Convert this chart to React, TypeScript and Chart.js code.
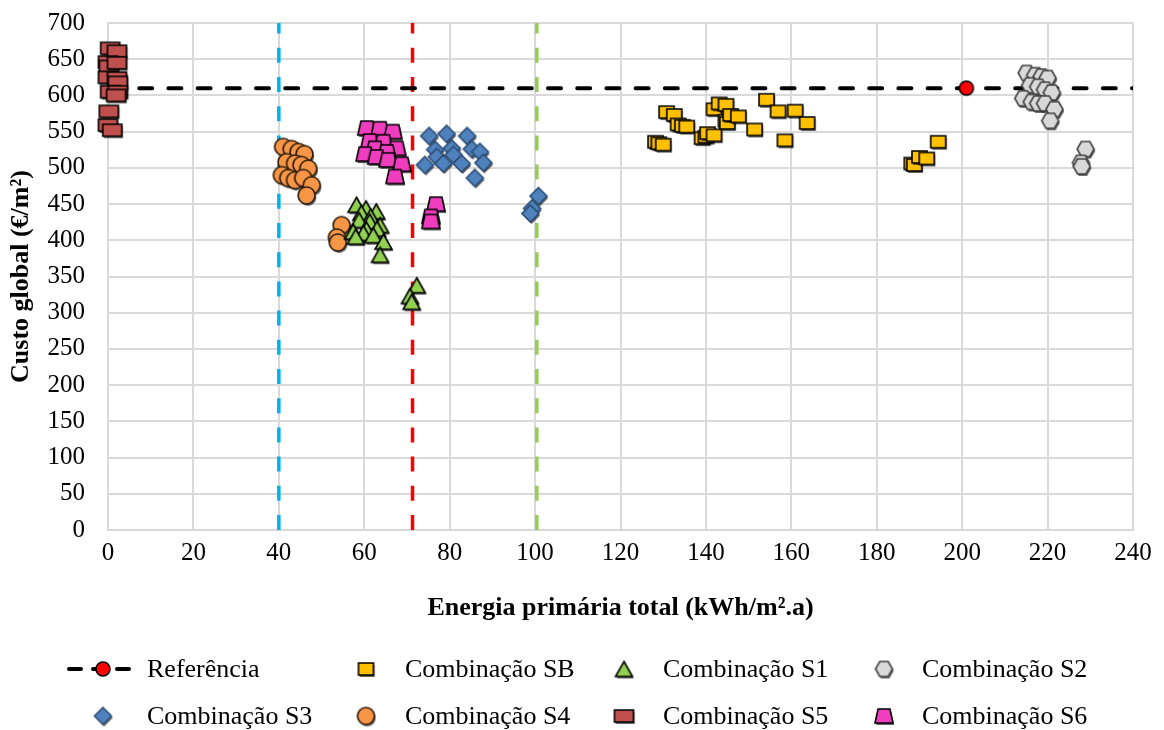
import { useEffect, useRef } from 'react';
import { Chart, registerables } from 'chart.js';

Chart.register(...registerables);

const SERIF = "'Liberation Serif', 'Times New Roman', Times, serif";

// Reference building
const referenciaX = [201];
const referenciaY = [610];
const referenciaLevel = 610;

// Vertical limits (kWh/m².a)
const limitBlue = 40;
const limitRed = 71.3;
const limitGreen = 100.4;

// Combinação SB
const sbX = [128.2, 129.0, 130.0, 130.8, 132.6, 133.5, 134.5, 135.5, 139.1, 140.0, 140.4, 141.9, 141.9, 143.1, 144.7, 144.7, 145.0, 145.8, 147.6, 151.4, 154.2, 156.9, 158.5, 160.9, 163.7, 188.2, 188.8, 190.0, 191.7, 194.4];
const sbY = [536, 534, 532, 577, 573, 560, 558, 557, 541, 543, 548, 545, 581, 589, 587, 565, 562, 573, 571, 553, 594, 578, 538, 579, 562, 506, 504, 515, 513, 536];

// Combinação S1
const s1X = [58.2, 60.4, 62.8, 59.3, 61.5, 58.8, 61.3, 63.7, 63.0, 60.5, 57.4, 59.8, 62.1, 58.0, 64.5, 63.7, 72.3, 70.7, 71.1];
const s1Y = [449, 444, 440, 438, 433, 428, 426, 421, 416, 415, 412, 410, 407, 405, 398, 380, 338, 323, 315];

// Combinação S2
const s2X = [215.1, 217.1, 218.6, 220.0, 215.9, 217.8, 219.4, 221.0, 214.3, 216.3, 217.8, 219.4, 221.6, 220.6, 228.9, 227.8, 228.0];
const s2Y = [631, 628, 626, 624, 614, 612, 608, 604, 596, 591, 589, 589, 581, 565, 526, 507, 502];

// Combinação S3
const s3X = [75.2, 79.3, 84.1, 76.6, 80.5, 85.2, 87.1, 77.0, 80.9, 74.2, 78.5, 82.8, 87.9, 85.9, 100.8, 99.3, 98.9];
const s3Y = [544, 547, 544, 525, 527, 526, 522, 515, 518, 504, 506, 506, 507, 486, 461, 444, 437];

// Combinação S4
const s4X = [41.0, 43.0, 44.6, 46.0, 41.8, 43.8, 45.3, 46.9, 40.7, 42.2, 43.8, 45.7, 47.7, 46.5, 54.7, 53.6, 53.8];
const s4Y = [529, 526, 522, 519, 508, 506, 504, 499, 490, 486, 483, 486, 476, 462, 421, 404, 397];

// Combinação S5
const s5X = [0.5, 2.1, 0.0, 0.2, 2.1, 0.0, 2.1, 2.3, 0.5, 2.3, 1.9, 0.2, 0.0, 1.0];
const s5Y = [665, 661, 646, 640, 645, 625, 624, 618, 605, 605, 600, 578, 559, 552];

// Combinação S6
const s6X = [60.6, 63.7, 66.7, 61.3, 64.5, 67.6, 62.5, 65.3, 60.2, 62.9, 65.6, 68.8, 67.2, 76.8, 75.6, 75.6];
const s6Y = [555, 554, 550, 537, 536, 527, 527, 522, 519, 515, 511, 505, 488, 450, 433, 426];

const xTickStep = 20;
const yTickStep = 50;

type PathFn = (ctx: CanvasRenderingContext2D, w: number, h: number) => void;

const rectPath: PathFn = (ctx, w, h) => {
  ctx.rect(0, 0, w, h);
};
const circlePath: PathFn = (ctx, w, h) => {
  ctx.arc(w / 2, h / 2, w / 2, 0, Math.PI * 2);
};
const trianglePath: PathFn = (ctx, w, h) => {
  ctx.moveTo(w / 2, 0);
  ctx.lineTo(w, h);
  ctx.lineTo(0, h);
  ctx.closePath();
};
const diamondPath: PathFn = (ctx, w, h) => {
  ctx.moveTo(w / 2, 0);
  ctx.lineTo(w, h / 2);
  ctx.lineTo(w / 2, h);
  ctx.lineTo(0, h / 2);
  ctx.closePath();
};
const hexagonPath: PathFn = (ctx, w, h) => {
  ctx.moveTo(w * 0.25, 0);
  ctx.lineTo(w * 0.75, 0);
  ctx.lineTo(w, h / 2);
  ctx.lineTo(w * 0.75, h);
  ctx.lineTo(w * 0.25, h);
  ctx.lineTo(0, h / 2);
  ctx.closePath();
};
const trapezoidPath: PathFn = (ctx, w, h) => {
  ctx.moveTo(w * 0.17, 0);
  ctx.lineTo(w * 0.83, 0);
  ctx.lineTo(w, h);
  ctx.lineTo(0, h);
  ctx.closePath();
};

// Builds a marker bitmap with a soft drop shadow, centred on its canvas.
function makeMarker(path: PathFn, w: number, h: number, fill: string, stroke: string, shadow = true) {
  const pad = 4;
  const c = document.createElement('canvas');
  c.width = w + pad * 2;
  c.height = h + pad * 2;
  const ctx = c.getContext('2d') as CanvasRenderingContext2D;
  if (shadow) {
    ctx.save();
    ctx.translate(pad + 1.2, pad + 2);
    ctx.beginPath();
    path(ctx, w, h);
    ctx.fillStyle = 'rgba(0,0,0,0.6)';
    ctx.fill();
    ctx.restore();
  }
  ctx.save();
  ctx.translate(pad, pad);
  ctx.beginPath();
  path(ctx, w, h);
  ctx.fillStyle = fill;
  ctx.fill();
  ctx.lineWidth = 1.6;
  ctx.strokeStyle = stroke;
  ctx.stroke();
  ctx.restore();
  return c;
}

const zip = (xs: number[], ys: number[]) => xs.map((x, i) => ({ x, y: ys[i] }));

export default function App() {
  const canvasRef = useRef<HTMLCanvasElement | null>(null);

  useEffect(() => {
    const canvas = canvasRef.current;
    if (!canvas) return;

    const markers = {
      ref: makeMarker(circlePath, 14, 14, '#FF0000', '#000000', false),
      sb: makeMarker(rectPath, 15, 12, '#FFC000', '#000000'),
      s1: makeMarker(trianglePath, 17, 15, '#92D050', '#000000'),
      s2: makeMarker(hexagonPath, 17, 15, '#D9D9D9', '#404040'),
      s3: makeMarker(diamondPath, 17, 17, '#4F81BD', '#2C4D75'),
      s4: makeMarker(circlePath, 17, 17, '#F79646', '#2B1A0A'),
      s5: makeMarker(rectPath, 19, 12, '#C0504D', '#000000'),
      s6: makeMarker(trapezoidPath, 18, 14, '#F03CBE', '#000000'),
    };

    // point series sit above the guide lines
    const scatter = (label: string, xs: number[], ys: number[], img: HTMLCanvasElement) => ({
      type: 'scatter' as const,
      label,
      data: zip(xs, ys),
      pointStyle: img,
      pointRadius: 9,
      clip: false as const,
      order: 0,
    });

    const vline = (x: number, color: string) => ({
      type: 'line' as const,
      label: '',
      data: [{ x, y: 0 }, { x, y: 700 }],
      borderColor: color,
      borderWidth: 3.5,
      borderDash: [15, 14.2],
      borderCapStyle: 'butt' as const,
      pointRadius: 0,
      fill: false,
      order: 10,
    });

    const legendItems = [
      { text: 'Referência', img: markers.ref, line: true },
      { text: 'Combinação SB', img: markers.sb },
      { text: 'Combinação S1', img: markers.s1 },
      { text: 'Combinação S2', img: markers.s2 },
      { text: 'Combinação S3', img: markers.s3 },
      { text: 'Combinação S4', img: markers.s4 },
      { text: 'Combinação S5', img: markers.s5 },
      { text: 'Combinação S6', img: markers.s6 },
    ];

    const gridLegend = {
      id: 'gridLegend',
      afterDraw(chart: Chart) {
        const ctx = chart.ctx;
        const markerX = [103, 366, 624, 884];
        const textX = [147, 405, 663, 922];
        const rowY = [669, 716];
        ctx.save();
        ctx.font = `26px ${SERIF}`;
        ctx.fillStyle = '#000';
        ctx.textBaseline = 'middle';
        ctx.textAlign = 'left';
        legendItems.forEach((item, i) => {
          const col = i % 4;
          const row = Math.floor(i / 4);
          const mx = markerX[col];
          const my = rowY[row];
          if (item.line) {
            ctx.save();
            ctx.strokeStyle = '#000';
            ctx.lineWidth = 4;
            ctx.lineCap = 'round';
            ctx.setLineDash([12, 12]);
            ctx.beginPath();
            ctx.moveTo(69, my);
            ctx.lineTo(139, my);
            ctx.stroke();
            ctx.restore();
          }
          ctx.drawImage(item.img, mx - item.img.width / 2, my - item.img.height / 2);
          ctx.fillText(item.text, textX[col], my + 1);
        });
        ctx.restore();
      },
    };

    const chart = new Chart(canvas, {
      type: 'scatter',
      data: {
        datasets: [
          {
            type: 'line',
            label: 'Referência',
            data: [{ x: 0, y: referenciaLevel }, { x: 240, y: referenciaLevel }],
            borderColor: '#000000',
            borderWidth: 4,
            borderDash: [13, 16.2],
            borderDashOffset: -2,
            borderCapStyle: 'round',
            pointRadius: 0,
            fill: false,
            order: 10,
          },
          vline(limitBlue, '#00B0F0'),
          vline(limitRed, '#FF0000'),
          vline(limitGreen, '#92D050'),
          scatter('Referência', referenciaX, referenciaY, markers.ref),
          scatter('Combinação SB', sbX, sbY, markers.sb),
          scatter('Combinação S1', s1X, s1Y, markers.s1),
          scatter('Combinação S2', s2X, s2Y, markers.s2),
          scatter('Combinação S3', s3X, s3Y, markers.s3),
          scatter('Combinação S4', s4X, s4Y, markers.s4),
          scatter('Combinação S5', s5X, s5Y, markers.s5),
          scatter('Combinação S6', s6X, s6Y, markers.s6),
        ] as any,
      },
      options: {
        responsive: false,
        animation: false,
        events: [],
        layout: { padding: { top: 23, right: 31, left: 0, bottom: 0 } },
        plugins: {
          legend: { display: false },
          tooltip: { enabled: false },
        },
        scales: {
          x: {
            type: 'linear',
            min: 0,
            max: 240,
            ticks: {
              stepSize: xTickStep,
              color: '#000',
              font: { family: SERIF, size: 25 },
              padding: 8,
              maxRotation: 0,
            },
            grid: { color: '#D9D9D9', lineWidth: 2, drawTicks: false },
            border: { color: '#D9D9D9', width: 2 },
            title: {
              display: true,
              text: 'Energia primária total (kWh/m².a)',
              color: '#000',
              font: { family: SERIF, size: 26, weight: 'bold' },
              padding: { top: 0, bottom: 106 },
            },
            afterFit: (scale: any) => {
              scale.height = 200;
            },
          },
          y: {
            type: 'linear',
            min: 0,
            max: 700,
            ticks: {
              stepSize: yTickStep,
              color: '#000',
              font: { family: SERIF, size: 25 },
              padding: 23,
            },
            grid: { color: '#D9D9D9', lineWidth: 2, drawTicks: false },
            border: { color: '#D9D9D9', width: 2 },
            title: {
              display: true,
              text: 'Custo global (€/m²)',
              color: '#000',
              font: { family: SERIF, size: 26, weight: 'bold' },
              padding: { top: 6, bottom: 0 },
            },
            afterFit: (scale: any) => {
              scale.width = 108;
              // label gap is horizontal only; keep it out of the vertical layout
              scale.paddingTop = 0;
              scale.paddingBottom = 0;
            },
          },
        },
      },
      plugins: [gridLegend],
    });

    return () => chart.destroy();
  }, []);

  return (
    <div style={{ position: 'absolute', left: 0, top: 0, width: 1164, height: 730, background: '#fff' }}>
      <canvas ref={canvasRef} width={1164} height={730} />
    </div>
  );
}
